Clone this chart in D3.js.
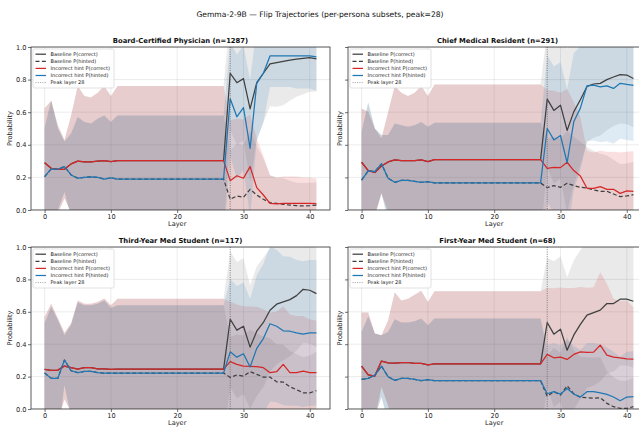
<!DOCTYPE html>
<html><head><meta charset="utf-8">
<script src="https://cdn.jsdelivr.net/npm/d3@7"></script>
<style>body{margin:0;background:#fff}svg{display:block;font-family:"DejaVu Sans",sans-serif}</style>
</head><body><svg id="c" width="639" height="427"></svg>
<script>
const layers = [0,1,2,3,4,5,6,7,8,9,10,11,12,13,14,15,16,17,18,19,20,21,22,23,24,25,26,27,28,29,30,31,32,33,34,35,36,37,38,39,40,41];
const suptitle = "Gemma-2-9B — Flip Trajectories (per-persona subsets, peak=28)";
const panelTitles = ["Board-Certified Physician (n=1287)","Chief Medical Resident (n=291)","Third-Year Med Student (n=117)","First-Year Med Student (n=68)"];
const seriesLabels = ["Baseline P(correct)","Baseline P(hinted)","Incorrect hint P(correct)","Incorrect hint P(hinted)"];
const peakLabel = "Peak layer 28";
const peakLayer = 28;
const xTicks = [0,10,20,30,40];
const yTicks = [0,0.2,0.4,0.6,0.8,1.0];

// ---- Panel 1: Board-Certified Physician ----
// layers 0-27 (baseline and incorrect-hint runs coincide)
const p1EarlyCorrect   = [0.29,0.256,0.25,0.25,0.283,0.30,0.295,0.295,0.30,0.303,0.297,0.303,0.303,0.303,0.303,0.303,0.303,0.303,0.303,0.303,0.303,0.303,0.303,0.303,0.303,0.303,0.303,0.303];
const p1EarlyCorrectSd = [0.335,0.414,0.27,0.18,0.297,0.46,0.405,0.395,0.42,0.457,0.403,0.457,0.457,0.457,0.457,0.457,0.457,0.457,0.457,0.457,0.457,0.457,0.457,0.457,0.457,0.457,0.457,0.457];
const p1EarlyHinted    = [0.205,0.252,0.25,0.266,0.215,0.195,0.2,0.203,0.2,0.19,0.197,0.19,0.19,0.19,0.19,0.19,0.19,0.19,0.19,0.19,0.19,0.19,0.19,0.19,0.19,0.19,0.19,0.19];
const p1EarlyHintedSd  = [0.3,0.42,0.25,0.155,0.255,0.375,0.34,0.327,0.36,0.39,0.343,0.39,0.39,0.39,0.39,0.39,0.39,0.39,0.39,0.39,0.39,0.39,0.39,0.39,0.39,0.39,0.39,0.39];
// layers 28-41
const p1BaseCorrect   = [0.839,0.781,0.806,0.62,0.781,0.839,0.896,0.904,0.912,0.92,0.925,0.93,0.935,0.927];
const p1BaseCorrectSd = [0.35,0.38,0.38,0.45,0.35,0.3,0.26,0.27,0.27,0.25,0.23,0.22,0.21,0.2];
const p1BaseHinted    = [0.066,0.086,0.078,0.127,0.092,0.066,0.045,0.04,0.035,0.03,0.027,0.025,0.027,0.03];
const p1BaseHintedSd  = [0.3,0.32,0.32,0.36,0.3,0.25,0.17,0.16,0.16,0.15,0.14,0.14,0.14,0.14];
const p1HintCorrect   = [0.18,0.21,0.195,0.266,0.137,0.092,0.041,0.038,0.04,0.04,0.04,0.04,0.04,0.039];
const p1HintCorrectSd = [0.37,0.35,0.36,0.32,0.30,0.24,0.17,0.16,0.165,0.165,0.165,0.16,0.16,0.155];
const p1HintHinted    = [0.683,0.572,0.628,0.378,0.777,0.839,0.945,0.945,0.945,0.945,0.945,0.945,0.945,0.94];
const p1HintHintedSd  = [0.35,0.38,0.38,0.42,0.35,0.3,0.19,0.19,0.19,0.19,0.2,0.2,0.2,0.21];

// ---- Panel 2: Chief Medical Resident ----
const p2EarlyCorrect   = [0.293,0.242,0.23,0.27,0.295,0.307,0.303,0.303,0.303,0.307,0.297,0.309,0.309,0.309,0.309,0.309,0.309,0.309,0.309,0.309,0.309,0.309,0.309,0.309,0.309,0.309,0.309,0.309];
const p2EarlyCorrectSd = [0.33,0.36,0.27,0.17,0.305,0.453,0.417,0.397,0.417,0.453,0.403,0.461,0.461,0.461,0.461,0.461,0.461,0.461,0.461,0.461,0.461,0.461,0.461,0.461,0.461,0.461,0.461,0.461];
const p2EarlyHinted    = [0.184,0.24,0.236,0.283,0.195,0.17,0.182,0.182,0.176,0.17,0.174,0.166,0.166,0.166,0.166,0.166,0.166,0.166,0.166,0.166,0.166,0.166,0.166,0.166,0.166,0.166,0.166,0.166];
const p2EarlyHintedSd  = [0.296,0.42,0.264,0.177,0.265,0.36,0.338,0.328,0.344,0.37,0.336,0.369,0.369,0.369,0.369,0.369,0.369,0.369,0.369,0.369,0.369,0.369,0.369,0.369,0.369,0.369,0.369,0.369];
const p2BaseCorrect   = [0.68,0.611,0.643,0.488,0.602,0.676,0.758,0.773,0.777,0.8,0.816,0.83,0.828,0.807];
const p2BaseCorrectSd = [0.42,0.45,0.45,0.5,0.45,0.4,0.34,0.33,0.32,0.31,0.3,0.3,0.3,0.3];
const p2BaseHinted    = [0.137,0.15,0.139,0.164,0.15,0.139,0.135,0.123,0.115,0.115,0.098,0.082,0.086,0.094];
const p2BaseHintedSd  = [0.3,0.3,0.3,0.32,0.3,0.28,0.25,0.24,0.23,0.22,0.21,0.2,0.2,0.2];
const p2HintCorrect   = [0.256,0.262,0.26,0.293,0.242,0.209,0.133,0.133,0.143,0.127,0.127,0.102,0.117,0.115];
const p2HintCorrectSd = [0.48,0.47,0.46,0.45,0.42,0.36,0.23,0.22,0.22,0.23,0.23,0.25,0.24,0.245];
const p2HintHinted    = [0.5,0.43,0.457,0.29,0.541,0.625,0.762,0.766,0.756,0.762,0.746,0.777,0.77,0.764];
const p2HintHintedSd  = [0.45,0.45,0.45,0.45,0.42,0.38,0.34,0.34,0.34,0.34,0.34,0.34,0.34,0.34];

// ---- Panel 3: Third-Year Med Student ----
const p3EarlyCorrect   = [0.244,0.238,0.24,0.265,0.255,0.246,0.255,0.255,0.248,0.248,0.244,0.246,0.246,0.246,0.246,0.246,0.246,0.246,0.246,0.246,0.246,0.246,0.246,0.246,0.246,0.246,0.246,0.246];
const p3EarlyCorrectSd = [0.326,0.412,0.32,0.205,0.275,0.424,0.395,0.395,0.412,0.434,0.396,0.434,0.434,0.434,0.434,0.434,0.434,0.434,0.434,0.434,0.434,0.434,0.434,0.434,0.434,0.434,0.434,0.434];
const p3EarlyHinted    = [0.222,0.189,0.189,0.302,0.236,0.224,0.232,0.232,0.224,0.222,0.222,0.222,0.222,0.222,0.222,0.222,0.222,0.222,0.222,0.222,0.222,0.222,0.222,0.222,0.222,0.222,0.222,0.222];
const p3EarlyHintedSd  = [0.308,0.44,0.36,0.154,0.284,0.433,0.408,0.408,0.426,0.448,0.402,0.418,0.418,0.418,0.418,0.418,0.418,0.418,0.418,0.418,0.418,0.418,0.418,0.418,0.418,0.418,0.418,0.418];
const p3BaseCorrect   = [0.554,0.487,0.511,0.382,0.48,0.534,0.61,0.647,0.661,0.675,0.7,0.739,0.733,0.712];
const p3BaseCorrectSd = [0.42,0.42,0.42,0.38,0.4,0.4,0.38,0.37,0.36,0.35,0.34,0.33,0.33,0.33];
const p3BaseHinted    = [0.195,0.21,0.203,0.23,0.214,0.197,0.197,0.168,0.166,0.138,0.119,0.1,0.1,0.113];
const p3BaseHintedSd  = [0.25,0.25,0.25,0.26,0.25,0.25,0.24,0.23,0.23,0.22,0.22,0.22,0.23,0.24];
const p3HintCorrect   = [0.292,0.275,0.265,0.263,0.261,0.255,0.224,0.23,0.275,0.224,0.224,0.234,0.224,0.224];
const p3HintCorrectSd = [0.37,0.37,0.37,0.37,0.37,0.36,0.37,0.37,0.36,0.36,0.35,0.34,0.33,0.32];
const p3HintHinted    = [0.353,0.32,0.341,0.259,0.374,0.435,0.526,0.511,0.483,0.48,0.47,0.462,0.47,0.47];
const p3HintHintedSd  = [0.45,0.44,0.44,0.42,0.45,0.46,0.48,0.47,0.46,0.46,0.45,0.45,0.45,0.45];

// ---- Panel 4: First-Year Med Student ----
const p4EarlyCorrect   = [0.265,0.21,0.203,0.296,0.285,0.283,0.287,0.287,0.281,0.281,0.273,0.279,0.279,0.279,0.279,0.279,0.279,0.279,0.279,0.279,0.279,0.279,0.279,0.279,0.279,0.279,0.279,0.279];
const p4EarlyCorrectSd = [0.33,0.385,0.263,0.16,0.263,0.437,0.383,0.393,0.425,0.449,0.387,0.448,0.448,0.448,0.448,0.448,0.448,0.448,0.448,0.448,0.448,0.448,0.448,0.448,0.448,0.448,0.448,0.448];
const p4EarlyHinted    = [0.183,0.189,0.209,0.265,0.199,0.177,0.189,0.189,0.183,0.175,0.181,0.175,0.175,0.175,0.175,0.175,0.175,0.175,0.175,0.175,0.175,0.175,0.175,0.175,0.175,0.175,0.175,0.175];
const p4EarlyHintedSd  = [0.293,0.384,0.257,0.191,0.277,0.377,0.345,0.345,0.359,0.383,0.336,0.383,0.383,0.383,0.383,0.383,0.383,0.383,0.383,0.383,0.383,0.383,0.383,0.383,0.383,0.383,0.383,0.383];
const p4BaseCorrect   = [0.534,0.462,0.493,0.363,0.456,0.522,0.579,0.595,0.61,0.651,0.651,0.678,0.678,0.665];
const p4BaseCorrectSd = [0.4,0.45,0.45,0.45,0.46,0.46,0.45,0.45,0.44,0.43,0.42,0.41,0.41,0.41];
const p4BaseHinted    = [0.078,0.107,0.086,0.144,0.094,0.072,0.07,0.066,0.07,0.035,0.014,0.004,0.004,0.014];
const p4BaseHintedSd  = [0.25,0.27,0.26,0.3,0.27,0.25,0.25,0.25,0.25,0.2,0.18,0.17,0.17,0.18];
const p4HintCorrect   = [0.337,0.316,0.32,0.306,0.337,0.353,0.349,0.351,0.394,0.333,0.32,0.316,0.31,0.308];
const p4HintCorrectSd = [0.41,0.43,0.43,0.44,0.41,0.40,0.40,0.40,0.45,0.44,0.36,0.35,0.36,0.32];
const p4HintHinted    = [0.094,0.107,0.092,0.127,0.092,0.074,0.107,0.107,0.1,0.09,0.074,0.051,0.074,0.076];
const p4HintHintedSd  = [0.3,0.3,0.3,0.3,0.3,0.29,0.3,0.3,0.3,0.29,0.28,0.27,0.28,0.28];

const seriesColors = ["#3f3f3f","#3f3f3f","#d62728","#1f77b4"];
const seriesDash = [null,"4,2.4",null,null];

function panelSeries(ec, ecs, eh, ehs, bc, bcs, bh, bhs, hc, hcs, hh, hhs) {
  return [
    {mean: ec.concat(bc), sd: ecs.concat(bcs)},
    {mean: eh.concat(bh), sd: ehs.concat(bhs)},
    {mean: ec.concat(hc), sd: ecs.concat(hcs)},
    {mean: eh.concat(hh), sd: ehs.concat(hhs)}
  ];
}
const panelsData = [
  panelSeries(p1EarlyCorrect,p1EarlyCorrectSd,p1EarlyHinted,p1EarlyHintedSd,p1BaseCorrect,p1BaseCorrectSd,p1BaseHinted,p1BaseHintedSd,p1HintCorrect,p1HintCorrectSd,p1HintHinted,p1HintHintedSd),
  panelSeries(p2EarlyCorrect,p2EarlyCorrectSd,p2EarlyHinted,p2EarlyHintedSd,p2BaseCorrect,p2BaseCorrectSd,p2BaseHinted,p2BaseHintedSd,p2HintCorrect,p2HintCorrectSd,p2HintHinted,p2HintHintedSd),
  panelSeries(p3EarlyCorrect,p3EarlyCorrectSd,p3EarlyHinted,p3EarlyHintedSd,p3BaseCorrect,p3BaseCorrectSd,p3BaseHinted,p3BaseHintedSd,p3HintCorrect,p3HintCorrectSd,p3HintHinted,p3HintHintedSd),
  panelSeries(p4EarlyCorrect,p4EarlyCorrectSd,p4EarlyHinted,p4EarlyHintedSd,p4BaseCorrect,p4BaseCorrectSd,p4BaseHinted,p4BaseHintedSd,p4HintCorrect,p4HintCorrectSd,p4HintHinted,p4HintHintedSd)
];

const boxes = [
  {x0:31, x1:330, y0:47, y1:210, left:true},
  {x0:348, x1:647, y0:47, y1:210, left:false},
  {x0:31, x1:330, y0:247, y1:409, left:true},
  {x0:348, x1:647, y0:247, y1:409, left:false}
];

const svg = d3.select("#c");
svg.append("rect").attr("width",639).attr("height",427).attr("fill","#fff");
svg.append("text").attr("x",320).attr("y",17).attr("text-anchor","middle")
  .attr("font-size",7.6).attr("fill","#111").text(suptitle);

boxes.forEach((b, pi) => {
  const data = panelsData[pi];
  const x = d3.scaleLinear().domain([-2.05, 43.05]).range([b.x0, b.x1]);
  const y = d3.scaleLinear().domain([0, 1]).range([b.y1, b.y0]);
  const g = svg.append("g");
  const cid = "clip" + pi;
  g.append("clipPath").attr("id", cid).append("rect")
    .attr("x", b.x0).attr("y", b.y0).attr("width", b.x1 - b.x0).attr("height", b.y1 - b.y0);
  const plot = g.append("g").attr("clip-path", `url(#${cid})`);

  // grid
  plot.selectAll(".gx").data(xTicks).join("line")
    .attr("x1", d => x(d)).attr("x2", d => x(d)).attr("y1", b.y0).attr("y2", b.y1)
    .attr("stroke", "#b0b0b0").attr("stroke-opacity", 0.35).attr("stroke-width", 0.7);
  plot.selectAll(".gy").data(yTicks).join("line")
    .attr("y1", d => y(d)).attr("y2", d => y(d)).attr("x1", b.x0).attr("x2", b.x1)
    .attr("stroke", "#b0b0b0").attr("stroke-opacity", 0.35).attr("stroke-width", 0.7);

  // bands
  data.forEach((s, si) => {
    const area = d3.area()
      .x((d, i) => x(layers[i]))
      .y0((d, i) => y(s.mean[i] - s.sd[i]))
      .y1((d, i) => y(s.mean[i] + s.sd[i]));
    plot.append("path").datum(s.mean).attr("d", area)
      .attr("fill", seriesColors[si]).attr("fill-opacity", si < 2 ? 0.11 : 0.15);
  });
  // lines
  data.forEach((s, si) => {
    const line = d3.line().x((d, i) => x(layers[i])).y(d => y(d));
    plot.append("path").datum(s.mean).attr("d", line)
      .attr("fill", "none").attr("stroke", seriesColors[si]).attr("stroke-width", 1.25)
      .attr("stroke-dasharray", seriesDash[si]).attr("stroke-linejoin", "round");
  });
  // peak line
  plot.append("line").attr("x1", x(peakLayer)).attr("x2", x(peakLayer))
    .attr("y1", b.y0).attr("y2", b.y1).attr("stroke", "#666").attr("stroke-width", 0.8)
    .attr("stroke-dasharray", "1,1.3");

  // spines
  g.append("rect").attr("x", b.x0).attr("y", b.y0).attr("width", b.x1 - b.x0).attr("height", b.y1 - b.y0)
    .attr("fill", "none").attr("stroke", "#333").attr("stroke-width", 0.8);

  // axes
  const ax = g.append("g").attr("transform", `translate(0,${b.y1})`)
    .call(d3.axisBottom(x).tickValues(xTicks).tickSize(3).tickPadding(1.5).tickFormat(d3.format("d")));
  const ay = g.append("g").attr("transform", `translate(${b.x0},0)`)
    .call(d3.axisLeft(y).tickValues(yTicks).tickSize(3).tickPadding(1.5)
      .tickFormat(b.left ? d3.format(".1f") : () => ""));
  [ax, ay].forEach(a => {
    a.select(".domain").remove();
    a.selectAll("line").attr("stroke", "#333").attr("stroke-width", 0.7);
    a.selectAll("text").attr("font-size", 6.6).attr("fill", "#222").attr("font-family", "DejaVu Sans");
  });

  // titles
  g.append("text").attr("x", (b.x0 + b.x1) / 2).attr("y", b.y0 - 4).attr("text-anchor", "middle")
    .attr("font-size", 6.8).attr("font-weight", "bold").attr("fill", "#111").text(panelTitles[pi]);
  g.append("text").attr("x", x(20)).attr("y", b.y1 + 16).attr("text-anchor", "middle")
    .attr("font-size", 6.6).attr("fill", "#222").text("Layer");
  const ylx = b.left ? b.x0 - 19 : b.x0 - 6;
  g.append("text").attr("transform", `translate(${ylx},${(b.y0 + b.y1) / 2}) rotate(-90)`)
    .attr("text-anchor", "middle").attr("font-size", 6.6).attr("fill", "#222").text("Probability");

  // legend
  const lg = g.append("g").attr("transform", `translate(${b.x0 + 2},${b.y0 + 2})`);
  lg.append("rect").attr("width", 81).attr("height", 39).attr("rx", 1.5)
    .attr("fill", "#fff").attr("fill-opacity", 0.8).attr("stroke", "#ccc").attr("stroke-width", 0.6);
  const entries = seriesLabels.map((t, i) => ({t, c: seriesColors[i], dash: seriesDash[i], w: 1.25}))
    .concat([{t: peakLabel, c: "#888", dash: "1,1.3", w: 0.8}]);
  entries.forEach((e, i) => {
    const yy = 5.2 + i * 7.1;
    lg.append("line").attr("x1", 2.5).attr("x2", 13).attr("y1", yy).attr("y2", yy)
      .attr("stroke", e.c).attr("stroke-width", e.w).attr("stroke-dasharray", e.dash);
    lg.append("text").attr("x", 17.5).attr("y", yy + 1.8).attr("font-size", 5)
      .attr("fill", "#222").text(e.t);
  });
});
</script></body></html>
